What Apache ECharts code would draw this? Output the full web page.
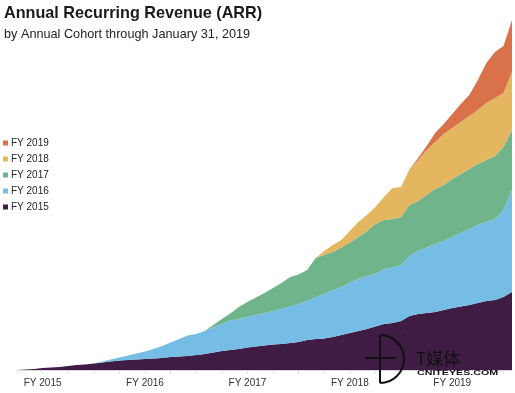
<!DOCTYPE html>
<html>
<head>
<meta charset="utf-8">
<script src="https://cdn.jsdelivr.net/npm/echarts@6/dist/echarts.min.js"></script>
<style>
html,body{margin:0;padding:0;background:#fff;}
#chart{width:515px;height:393px;}
</style>
</head>
<body>
<div id="chart"></div>
<script>
// Monthly categories (fiscal year starts in February)
var months = [
  '2013-11','2013-12','2014-01','2014-02','2014-03','2014-04','2014-05','2014-06','2014-07','2014-08',
  '2014-09','2014-10','2014-11','2014-12','2015-01','2015-02','2015-03','2015-04','2015-05','2015-06',
  '2015-07','2015-08','2015-09','2015-10','2015-11','2015-12','2016-01','2016-02','2016-03','2016-04',
  '2016-05','2016-06','2016-07','2016-08','2016-09','2016-10','2016-11','2016-12','2017-01','2017-02',
  '2017-03','2017-04','2017-05','2017-06','2017-07','2017-08','2017-09','2017-10','2017-11','2017-12',
  '2018-01','2018-02','2018-03','2018-04','2018-05','2018-06','2018-07','2018-08','2018-09'
];
var tickLabels = ['FY 2015','FY 2016','FY 2017','FY 2018','FY 2019'];
var tickMonths = ['2014-02','2015-02','2016-02','2017-02','2018-02'];
var cohortNames = ['FY 2015','FY 2016','FY 2017','FY 2018','FY 2019'];

// ARR contributed by each cohort (relative units)
var fy2015 = [0,0.5,1,2,2.5,3,4,5,5.5,6.5,7.5,8.5,9.5,10,10.5,11,11.5,12,13,13.5,
  14,15,16,17.5,19,20,21,22.5,23.5,24.5,25.5,26,27,28,30,31,31.5,33,35,37,
  39,41,43.5,46,47,49,54,56,57,58,60,62,63.5,65,67,69,70,73,78];
var fy2016 = [0,0,0,0,0,0,0,0,0,0,1,2,3,4.5,6,7.5,9.5,12,14.5,17.5,
  20.5,21,23,25.5,27,29.5,30,30.5,31.5,32.5,33.5,35,36.5,38,39,42,44.5,47,48,50,
  52,53,52.5,55,55.5,56,60,63,65.5,68,69,71,73.5,76,78,79,81,87,102];
var fy2017 = [0,0,0,0,0,0,0,0,0,0,0,0,0,0,0,0,0,0,0,0,
  0,0,0,2,5,7,12,15,17.5,20,23,26,29.5,29.5,31,39,39,38,39.5,40.5,
  42,45,50,49,48.5,48,51,50,52.5,55,56,58,59,60,61,62,63,63,60];
var fy2018 = [0,0,0,0,0,0,0,0,0,0,0,0,0,0,0,0,0,0,0,0,
  0,0,0,0,0,0,0,0,0,0,0,0,0,0,0,0,4,7,7.5,11.5,
  15,16,17,23,31,30,36,41,45,47,51,51,52,53,54,57,58,54,58];
var fy2019 = [0,0,0,0,0,0,0,0,0,0,0,0,0,0,0,0,0,0,0,0,
  0,0,0,0,0,0,0,0,0,0,0,0,0,0,0,0,0,0,0,0,
  0,0,0,0,0,0,0,2,4,9,10,14,18,21,30,40,46,47,52];

var colors = ['#3e1c43','#76bde6','#6fb48a','#e3b65f','#d9714a'];
var cohorts = [fy2015, fy2016, fy2017, fy2018, fy2019];

var chart = echarts.init(document.getElementById('chart'), null, {renderer:'canvas'});

var series = cohorts.map(function(d, i){
  return {
    name: cohortNames[i],
    type: 'line',
    stack: 'arr',
    data: d,
    showSymbol: false,
    symbol: 'none',
    smooth: false,
    lineStyle: {width: 0},
    areaStyle: {color: colors[i], opacity: 1},
    itemStyle: {color: colors[i]},
    emphasis: {disabled: true}
  };
});

var font = "'Liberation Sans', Arial, Helvetica, sans-serif";

chart.setOption({
  animation: false,
  backgroundColor: '#ffffff',
  title: {
    text: 'Annual Recurring Revenue (ARR)',
    subtext: 'by Annual Cohort through January 31, 2019',
    left: 4,
    top: 6,
    padding: 0,
    itemGap: 6,
    textStyle: {fontFamily: font, fontSize: 16.2, fontWeight: 'bold', color: '#1b1b1b'},
    subtextStyle: {fontFamily: font, fontSize: 12.7, color: '#222222'}
  },
  legend: {
    orient: 'vertical',
    left: 3,
    top: 137,
    padding: 0,
    data: cohortNames.slice().reverse(),
    icon: 'rect',
    itemWidth: 5,
    itemHeight: 5,
    itemGap: 4,
    selectedMode: false,
    textStyle: {fontFamily: font, fontSize: 10, color: '#222', lineHeight: 12, padding: [0, 0, 0, -2]}
  },
  grid: {left: 17, right: 0, top: 20, bottom: 23, containLabel: false},
  xAxis: {
    type: 'category',
    data: months,
    boundaryGap: false,
    axisLine: {show: true, lineStyle: {color: '#d8d3dd', width: 1}},
    axisTick: {show: true, length: 4, lineStyle: {color: '#e2dfe6'},
      interval: function(idx){ return idx % 3 === 0; }},
    axisLabel: {
      interval: 0,
      margin: 8,
      fontFamily: font,
      fontSize: 10,
      color: '#333',
      formatter: function(v){
        var k = tickMonths.indexOf(v);
        return k >= 0 ? tickLabels[k] : '';
      }
    },
    splitLine: {show: false}
  },
  yAxis: {type: 'value', min: 0, max: 350, show: false},
  series: series,
  graphic: [
    {type: 'line', z: 100, shape: {x1: 380, y1: 335, x2: 380, y2: 383}, style: {stroke: '#111', lineWidth: 2}},
    {type: 'arc', z: 100, shape: {cx: 380, cy: 359, r: 24, startAngle: -Math.PI/2, endAngle: Math.PI/2, clockwise: true}, style: {stroke: '#111', lineWidth: 2, fill: null}},
    {type: 'line', z: 100, shape: {x1: 365, y1: 358, x2: 396, y2: 358}, style: {stroke: '#111', lineWidth: 2}},
    {type: 'text', z: 100, x: 402, y: 334, style: {text: '™', font: "5px 'Liberation Sans'", fill: '#222'}},
    {type: 'text', z: 100, x: 416, y: 359, style: {text: 'T媒体', font: "17px 'Noto Sans CJK SC'", fill: '#111', textVerticalAlign: 'middle'}},
    {type: 'text', z: 100, x: 417, y: 373, scaleX: 1.42, style: {text: 'CNITEYES.COM', font: "bold 7.5px 'Liberation Sans'", fill: '#111', textVerticalAlign: 'middle'}}
  ]
});
</script>
</body>
</html>
